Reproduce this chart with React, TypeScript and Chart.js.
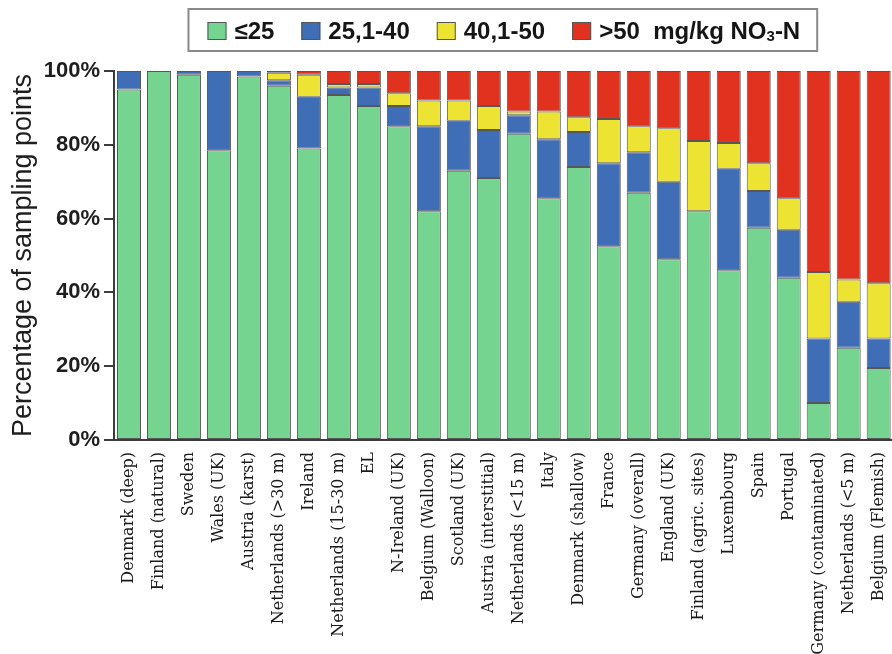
import React, { useEffect, useRef } from "react";
import { Chart, registerables } from "chart.js";

Chart.register(...registerables);

// Sampling sites, in the order they are plotted
const sites = [
  "Denmark (deep)",
  "Finland (natural)",
  "Sweden",
  "Wales (UK)",
  "Austria (karst)",
  "Netherlands (>30 m)",
  "Ireland",
  "Netherlands (15-30 m)",
  "EL",
  "N-Ireland (UK)",
  "Belgium (Walloon)",
  "Scotland (UK)",
  "Austria (interstitial)",
  "Netherlands (<15 m)",
  "Italy",
  "Denmark (shallow)",
  "France",
  "Germany (overall)",
  "England (UK)",
  "Finland (agric. sites)",
  "Luxembourg",
  "Spain",
  "Portugal",
  "Germany (contaminated)",
  "Netherlands (<5 m)",
  "Belgium (Flemish)",
];

// Share of sampling points (%) in each nitrate class
const upTo25 = [95, 100, 99, 78.5, 98.5, 96, 79, 93.5, 90.5, 85, 62, 73, 71, 83, 65.5, 74, 52.5, 67, 49, 62, 46, 57.5, 44, 10, 25, 19.5];
const from25to40 = [5, 0, 1, 21.5, 1.5, 1.5, 14, 2, 5, 5.5, 23, 13.5, 13, 5, 16, 9.5, 22.5, 11, 21, 0, 27.5, 10, 13, 17.5, 12.5, 8];
const from40to50 = [0, 0, 0, 0, 0, 2, 6, 1, 1, 3.5, 7, 5.5, 6.5, 1, 7.5, 4, 12, 7, 14.5, 19, 7, 7.5, 8.5, 18, 6, 15];
const above50 = [0, 0, 0, 0, 0, 0.5, 1, 3.5, 3.5, 6, 8, 8, 9.5, 11, 11, 12.5, 13, 15, 15.5, 19, 19.5, 25, 34.5, 54.5, 56.5, 57.5];

const classLabels = ["≤25", "25,1-40", "40,1-50", ">50  mg/kg NO₃-N"];
const classColors = ["#74D490", "#3F6DB6", "#EDE333", "#E1321F"];
const seriesValues = [upTo25, from25to40, from40to50, above50];

const yTickValues = [0, 20, 40, 60, 80, 100];

const SANS = "'Liberation Sans', Arial, sans-serif";
const SERIF = "'DejaVu Serif', serif";

// Splits a label into plain runs and subscript-digit runs
function splitRuns(text: string) {
  const runs: { text: string; sub: boolean }[] = [];
  for (const ch of Array.from(text)) {
    const code = ch.codePointAt(0) || 0;
    const sub = code >= 0x2080 && code <= 0x2089;
    const c = sub ? String(code - 0x2080) : ch;
    const last = runs[runs.length - 1];
    if (last && last.sub === sub) last.text += c;
    else runs.push({ text: c, sub });
  }
  return runs;
}

// Framed one-row legend above the plot
const boxedLegend = {
  id: "boxedLegend",
  afterDraw(chart: any) {
    const { ctx, chartArea } = chart;
    const mainFont = `bold 24px ${SANS}`;
    const subFont = `bold 15px ${SANS}`;
    const boxW = 19;
    const boxH = 18;
    const gap = 8;
    const itemGap = 27;
    const cy = 31;

    ctx.save();
    const items = chart.data.datasets.map((ds: any) => {
      const runs = splitRuns(ds.label);
      let w = 0;
      const widths = runs.map((r) => {
        ctx.font = r.sub ? subFont : mainFont;
        const m = ctx.measureText(r.text).width;
        w += m;
        return m;
      });
      return { runs, widths, w, color: ds.backgroundColor };
    });
    const total =
      items.reduce((s: number, it: any) => s + boxW + gap + it.w, 0) +
      itemGap * (items.length - 1);
    let x = (chartArea.left + chartArea.right) / 2 - total / 2;

    ctx.strokeStyle = "#8a8a8a";
    ctx.lineWidth = 2;
    ctx.strokeRect(x - 19, 9, total + 36, 42);

    ctx.textBaseline = "middle";
    ctx.textAlign = "left";
    for (const it of items) {
      ctx.fillStyle = it.color;
      ctx.fillRect(x, cy - boxH / 2, boxW, boxH);
      ctx.strokeStyle = "#555";
      ctx.lineWidth = 1;
      ctx.strokeRect(x + 0.5, cy - boxH / 2 + 0.5, boxW - 1, boxH - 1);
      x += boxW + gap;
      ctx.fillStyle = "#151515";
      it.runs.forEach((r: any, i: number) => {
        ctx.font = r.sub ? subFont : mainFont;
        ctx.fillText(r.text, x, r.sub ? cy + 6 : cy + 1);
        x += it.widths[i];
      });
      x += itemGap;
    }
    ctx.restore();
  },
};

export default function App() {
  const canvasRef = useRef<HTMLCanvasElement | null>(null);

  useEffect(() => {
    const canvas = canvasRef.current;
    if (!canvas) return;

    const chart = new Chart(canvas, {
      type: "bar",
      data: {
        labels: sites,
        datasets: seriesValues.map((values, i) => ({
          label: classLabels[i],
          data: values,
          backgroundColor: classColors[i],
          borderColor: "rgba(45,45,45,0.8)",
          borderWidth: 1,
          borderSkipped: false,
          barPercentage: 0.8,
          categoryPercentage: 1,
        })),
      },
      options: {
        animation: false,
        responsive: false,
        devicePixelRatio: 1,
        layout: { padding: { top: 71, right: 6, bottom: 0, left: 0 } },
        plugins: {
          legend: { display: false },
          tooltip: { enabled: false },
        },
        scales: {
          x: {
            stacked: true,
            offset: true,
            grid: { display: true, drawOnChartArea: false, drawTicks: false },
            border: { display: true, color: "#3c3c3c", width: 2 },
            ticks: {
              autoSkip: false,
              maxRotation: 90,
              minRotation: 90,
              padding: 12,
              color: "#1a1a1a",
              font: { family: SERIF, size: 16 },
            },
            afterFit: (scale: any) => {
              scale.height = 214;
            },
          },
          y: {
            stacked: true,
            min: 0,
            max: 100,
            afterBuildTicks: (scale: any) => {
              scale.ticks = yTickValues.map((v) => ({ value: v }));
            },
            grid: {
              drawOnChartArea: false,
              drawTicks: true,
              tickLength: 10,
              color: "#3c3c3c",
              lineWidth: 2,
            },
            border: { display: true, color: "#3c3c3c", width: 2 },
            ticks: {
              padding: 4,
              color: "#1e1e1e",
              font: { family: SANS, size: 22, weight: "bold" },
              callback: (v: any) => `${v}%`,
            },
            title: {
              display: true,
              text: "Percentage of sampling points",
              color: "#1e1e1e",
              font: { family: SANS, size: 27 },
              padding: { top: 7, bottom: 0 },
            },
            afterFit: (scale: any) => {
              scale.width = 114;
            },
          },
        },
      },
      plugins: [boxedLegend],
    });

    return () => chart.destroy();
  }, []);

  return (
    <div
      style={{
        position: "absolute",
        left: 0,
        top: 0,
        width: 892,
        height: 654,
        overflow: "hidden",
        background: "#fff",
      }}
    >
      <canvas ref={canvasRef} width={910} height={654} style={{ width: 910, height: 654 }} />
    </div>
  );
}
